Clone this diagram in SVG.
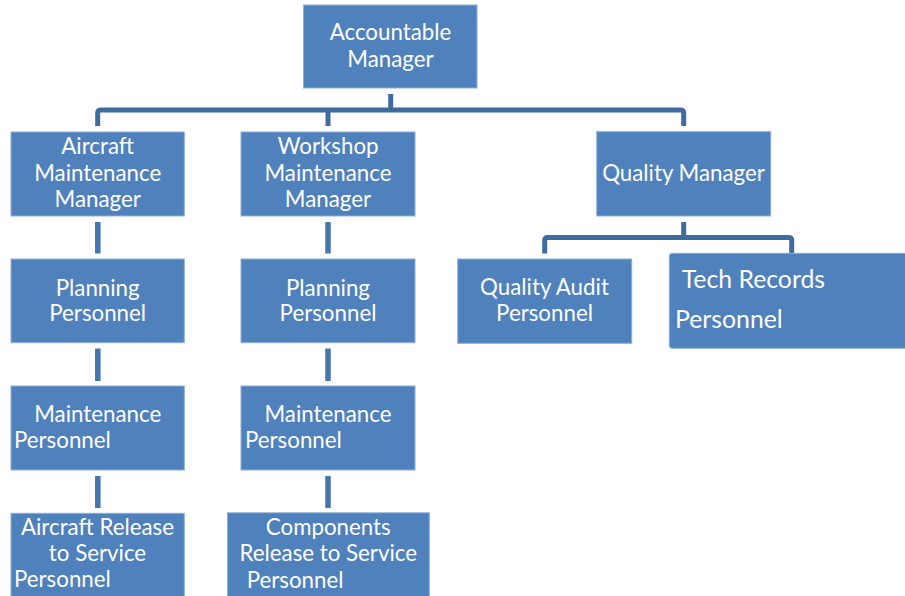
<svg xmlns="http://www.w3.org/2000/svg" width="905" height="596" viewBox="0 0 905 596">
<style>
.box{fill:#4F81BD;stroke:#8EAEDA;stroke-width:1}
.t{font-family:Lato,"Open Sans","Liberation Sans",sans-serif;font-size:22.3px;fill:#FFFFFF}
.c{text-anchor:middle}
.big{font-size:24.8px}
.br{fill:none;stroke:#3F6B9E;stroke-width:5;stroke-linejoin:round}
.st{fill:none;stroke:#4676B2;stroke-width:5.5}
</style>
<rect width="905" height="596" fill="#FFFFFF"/>
<g id="connectors">
<path class="br" d="M390.7,94 V110"/>
<path class="br" d="M97.7,126 V113 Q97.7,110 100.7,110 H680.7 Q683.7,110 683.7,113 V126"/>
<path class="br" d="M328,110 V126"/>
<path class="br" d="M683.7,222 V237.5"/>
<path class="br" d="M544.7,253.5 V240.5 Q544.7,237.5 547.7,237.5 H788.7 Q791.7,237.5 791.7,240.5 V253.5"/>
<path class="st" d="M97.8,222 V253.5 M97.8,348.5 V381 M97.8,476 V508"/>
<path class="st" d="M328,222 V253.5 M328,348.5 V381 M328,476 V508"/>
</g>
<g id="accountable-manager">
<rect class="box" x="303.5" y="5" width="173.5" height="83"/>
<text class="t c" x="390.5" y="40">Accountable</text>
<text class="t c" x="390.5" y="66.7">Manager</text>
</g>
<g id="aircraft-maintenance-manager">
<rect class="box" x="11" y="132" width="173.3" height="84"/>
<text class="t c" x="97.7" y="154">Aircraft</text>
<text class="t c" x="97.7" y="180.7">Maintenance</text>
<text class="t c" x="97.7" y="206.7">Manager</text>
</g>
<g id="workshop-maintenance-manager">
<rect class="box" x="241" y="132" width="174" height="84"/>
<text class="t c" x="328" y="154">Workshop</text>
<text class="t c" x="328" y="180.7">Maintenance</text>
<text class="t c" x="328" y="206.7">Manager</text>
</g>
<g id="quality-manager">
<rect class="box" x="596.7" y="131.7" width="174" height="84.3"/>
<text class="t c" x="683.5" y="180.7">Quality Manager</text>
</g>
<g id="planning-personnel-1">
<rect class="box" x="11" y="259" width="173.3" height="83.7"/>
<text class="t c" x="97.7" y="296">Planning</text>
<text class="t c" x="97.7" y="320.7">Personnel</text>
</g>
<g id="planning-personnel-2">
<rect class="box" x="241" y="259" width="174" height="83.7"/>
<text class="t c" x="328" y="296">Planning</text>
<text class="t c" x="328" y="320.7">Personnel</text>
</g>
<g id="quality-audit-personnel">
<rect class="box" x="457.7" y="259" width="174" height="84.3"/>
<text class="t c" x="544.5" y="295">Quality Audit</text>
<text class="t c" x="544.5" y="321">Personnel</text>
</g>
<g id="tech-records-personnel">
<rect class="box" x="669.3" y="253.3" width="240" height="95" rx="3"/>
<text class="t big" x="681.7" y="287.7">Tech Records</text>
<text class="t big" x="675" y="328.3">Personnel</text>
</g>
<g id="maintenance-personnel-1">
<rect class="box" x="11" y="386" width="173.3" height="84"/>
<text class="t c" x="97.7" y="421.7">Maintenance</text>
<text class="t" x="14" y="447.7">Personnel</text>
</g>
<g id="maintenance-personnel-2">
<rect class="box" x="241" y="386" width="174" height="84"/>
<text class="t c" x="328" y="421.7">Maintenance</text>
<text class="t" x="245" y="447.7">Personnel</text>
</g>
<g id="aircraft-release-personnel">
<rect class="box" x="11" y="513.3" width="173.3" height="90"/>
<text class="t c" x="97.5" y="534.5">Aircraft Release</text>
<text class="t c" x="97.5" y="560.5">to Service</text>
<text class="t" x="14" y="587">Personnel</text>
</g>
<g id="components-release-personnel">
<rect class="box" x="227.5" y="512.8" width="201.8" height="90"/>
<text class="t c" x="328.3" y="534.8">Components</text>
<text class="t c" x="328.3" y="561">Release to Service</text>
<text class="t" x="246.7" y="587.8">Personnel</text>
</g>
</svg>
